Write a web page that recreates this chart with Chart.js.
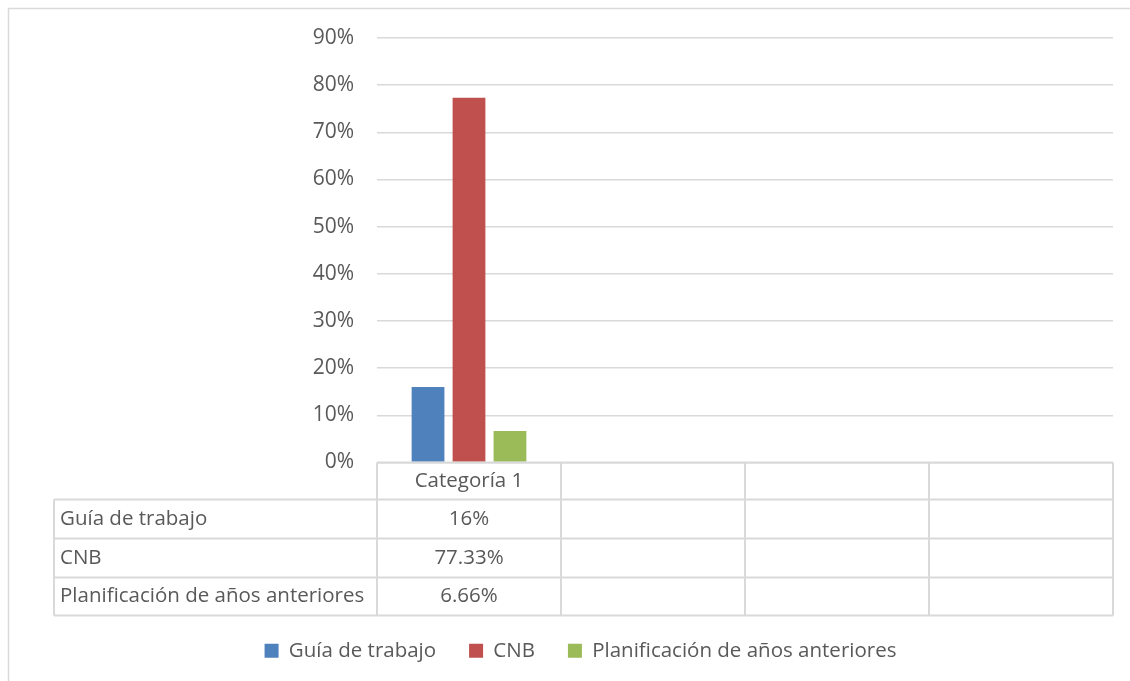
<!DOCTYPE html>
<html>
<head>
<meta charset="utf-8">
<script src="https://cdn.jsdelivr.net/npm/chart.js@4/dist/chart.umd.min.js"></script>
<style>
  body { margin: 0; background: #fff; }
  #wrap { width: 1130px; height: 681px; }
</style>
</head>
<body>
<div id="wrap"><canvas id="chart-area" width="1130" height="681"></canvas></div>
<script>
// data
var categories = ["Categoría 1", "", "", ""];
var seriesNames = ["Guía de trabajo", "CNB", "Planificación de años anteriores"];
var guiaValues = [0.16, null, null, null];
var cnbValues = [0.7733, null, null, null];
var planValues = [0.0666, null, null, null];
var tickValues = [0, 0.1, 0.2, 0.3, 0.4, 0.5, 0.6, 0.7, 0.8, 0.9];

var palette = ["#4F81BD", "#C0504D", "#9BBB59"];
var textColor = "#595959";
var lineColor = "#D9D9D9";
var fontFamily = "'Open Sans', sans-serif";
var fontSize = 20.5;

function pct(v) {
    if (v == null) return "";
    return (Math.round(v * 10000) / 100) + "%";
}

// draws the outer frame of the chart, nudges the legend like excel does
var framePlugin = {
    id: "frame",
    afterLayout: function (chart) {
        if (chart.legend) chart.legend.left += 48;
    },
    beforeDraw: function (chart) {
        var ctx = chart.ctx;
        ctx.save();
        ctx.strokeStyle = lineColor;
        ctx.lineWidth = 1.5;
        ctx.strokeRect(8.5, 8.5, 1200, 800);
        ctx.restore();
    }
};

// data table under the plot, built from the x scale
var tablePlugin = {
    id: "dataTable",
    afterDraw: function (chart) {
        var ctx = chart.ctx;
        var x = chart.scales.x;
        var area = chart.chartArea;
        var colW = x.width / categories.length;
        var top = area.bottom;
        var rowH = [37, 39, 39, 38];
        var labelLeft = 54;
        var rows = [top];
        for (var i = 0; i < rowH.length; i++) rows.push(rows[i] + rowH[i]);
        var bottom = rows[rows.length - 1];

        ctx.save();
        ctx.strokeStyle = lineColor;
        ctx.lineWidth = 2;
        ctx.beginPath();
        // horizontal lines
        ctx.moveTo(area.left, rows[0]); ctx.lineTo(area.right, rows[0]);
        for (var r = 1; r < rows.length; r++) {
            ctx.moveTo(labelLeft, rows[r]); ctx.lineTo(area.right, rows[r]);
        }
        // vertical lines
        for (var c = 0; c <= categories.length; c++) {
            var px = x.left + c * colW;
            ctx.moveTo(px, rows[0]); ctx.lineTo(px, bottom);
        }
        ctx.moveTo(labelLeft, rows[1]); ctx.lineTo(labelLeft, bottom);
        ctx.stroke();

        ctx.fillStyle = textColor;
        ctx.font = fontSize + "px " + fontFamily;
        ctx.textBaseline = "middle";
        ctx.textAlign = "center";
        for (var k = 0; k < categories.length; k++) {
            var cx = x.getPixelForValue(k);
            ctx.fillText(categories[k], cx, (rows[0] + rows[1]) / 2);
            chart.data.datasets.forEach(function (ds, d) {
                ctx.fillText(pct(ds.data[k]), cx, (rows[d + 1] + rows[d + 2]) / 2);
            });
        }
        ctx.textAlign = "left";
        chart.data.datasets.forEach(function (ds, d) {
            ctx.fillText(ds.label, labelLeft + 6, (rows[d + 1] + rows[d + 2]) / 2);
        });
        ctx.restore();
    }
};

var config = {
    type: "bar",
    data: {
        labels: categories,
        datasets: [{
            label: seriesNames[0],
            data: guiaValues,
            backgroundColor: palette[0]
        }, {
            label: seriesNames[1],
            data: cnbValues,
            backgroundColor: palette[1]
        }, {
            label: seriesNames[2],
            data: planValues,
            backgroundColor: palette[2]
        }]
    },
    options: {
        responsive: false,
        animation: false,
        categoryPercentage: 0.668,
        barPercentage: 0.8,
        layout: {
            padding: { top: 38, right: 17, left: 0, bottom: 10 }
        },
        plugins: {
            tooltip: { enabled: false },
            legend: {
                position: "bottom",
                labels: {
                    boxWidth: 14,
                    boxHeight: 14,
                    padding: 33,
                    color: textColor,
                    font: { family: fontFamily, size: fontSize }
                }
            }
        },
        scales: {
            x: {
                grid: { display: false },
                border: { display: false },
                ticks: { display: false },
                afterFit: function (scale) { scale.height = 145; }
            },
            y: {
                min: 0,
                max: 0.9,
                afterBuildTicks: function (scale) {
                    scale.ticks = tickValues.map(function (v) { return { value: v }; });
                },
                afterFit: function (scale) { scale.width = 377; },
                grid: { color: lineColor, lineWidth: 1.5, drawTicks: false },
                border: { display: false },
                ticks: {
                    padding: 23,
                    color: textColor,
                    font: { family: fontFamily, size: 21 },
                    callback: function (v) { return Math.round(v * 100) + "%"; }
                }
            }
        }
    },
    plugins: [framePlugin, tablePlugin]
};

var ctx = document.getElementById("chart-area").getContext("2d");
window.myBar = new Chart(ctx, config);
</script>
</body>
</html>
